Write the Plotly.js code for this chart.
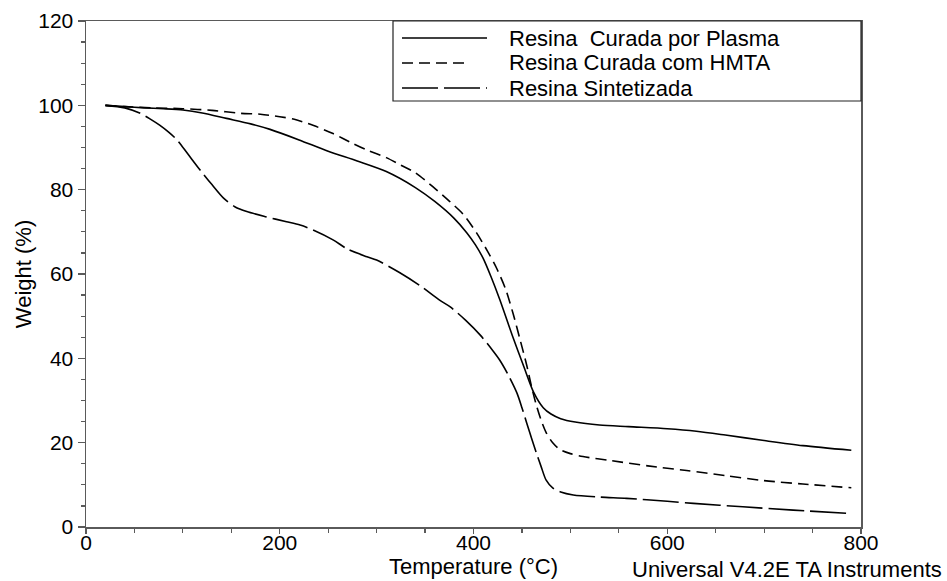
<!DOCTYPE html>
<html>
<head>
<meta charset="utf-8">
<script src="https://cdn.plot.ly/plotly-3.0.1.min.js"></script>
<style>
  html, body { margin: 0; padding: 0; background: #fff; }
  #chart { width: 947px; height: 581px; }
</style>
</head>
<body>
<div id="chart"></div>
<script>
// Thermogravimetric curves (TGA): residual weight vs temperature

const seriesNames = [
  "Resina\u00a0\u00a0Curada por Plasma",
  "Resina Curada com HMTA",
  "Resina Sintetizada"
];

// Resina curada por plasma
const plasmaTemp = [20, 40, 60, 80, 100, 120, 145, 170, 190, 220, 250, 280, 310, 340, 360, 380, 393, 402, 410, 418, 427, 441, 452, 462, 472, 480, 490, 505, 530, 560, 600, 630, 660, 700, 740, 790];
const plasmaWeight = [100, 99.7, 99.4, 99.2, 98.9, 98.2, 96.9, 95.6, 94.3, 91.8, 89.1, 86.8, 84.3, 80.5, 77.2, 73.2, 69.8, 66.9, 63.7, 59.4, 54.0, 44.8, 38.0, 32.0, 28.3, 26.8, 25.7, 24.9, 24.2, 23.8, 23.3, 22.7, 21.8, 20.5, 19.3, 18.2];

// Resina curada com HMTA
const hmtaTemp = [20, 40, 70, 100, 130, 160, 180, 200, 215, 235, 255, 275, 290, 310, 325, 340, 358, 375, 390, 403, 415, 424, 433, 441, 448, 455, 460, 465, 470, 475, 482, 489, 500, 513, 540, 580, 620, 660, 700, 740, 790];
const hmtaWeight = [100, 99.7, 99.4, 99.2, 98.8, 98.1, 97.9, 97.3, 96.7, 95.2, 93.3, 91.0, 89.4, 87.6, 85.8, 84.0, 80.7, 77.3, 74.0, 69.8, 65.2, 61.3, 56.5, 50.5, 44.5, 38.3, 33.2, 28.8, 25.2, 22.4, 19.9, 18.4, 17.4, 16.7, 15.8, 14.5, 13.4, 12.2, 11.0, 10.2, 9.3];

// Resina sintetizada
const sintTemp = [20, 40, 56, 66, 76, 85, 94, 105, 118, 130, 142, 154, 166, 185, 207, 221, 235, 255, 270, 290, 300, 324, 345, 365, 376, 392, 407, 420, 427, 436, 445, 450, 455, 460, 465, 470, 475, 482, 490, 503, 530, 558, 600, 627, 678, 730, 790];
const sintWeight = [100, 99.4, 98.1, 96.8, 95.3, 93.7, 91.8, 88.5, 84.6, 81.2, 78.0, 75.9, 74.8, 73.6, 72.4, 71.6, 70.4, 68.1, 65.9, 64.1, 63.3, 60.3, 57.2, 53.8, 52.2, 49.0, 45.5, 41.8, 39.6, 36.0, 31.7, 28.3, 24.6, 21.0, 17.5, 14.2, 11.1, 9.2, 8.3, 7.6, 7.1, 6.8, 6.1, 5.6, 4.8, 4.0, 3.2];

const xTitle = "Temperature (°C)";
const yTitle = "Weight (%)";
const footerText = "Universal V4.2E TA Instruments";

// line styles for the three curves
const dashStyles = ["solid", "11px,6px", "36px,6px"];

const W = 947, H = 581;
const M = { l: 86, r: 86, t: 21, b: 54 };
const plotW = W - M.l - M.r, plotH = H - M.t - M.b;
const px2x = p => (p - M.l) / plotW;        // pixel -> paper x
const py2y = p => (H - M.b - p) / plotH;    // pixel -> paper y

const FONT = "Liberation Sans, Arial, sans-serif";
const AXIS_GRAY = "#5a5a5a";
const TEXT_SIZE = 22;
const TICK_SIZE = 21;

const traces = [
  [plasmaTemp, plasmaWeight],
  [hmtaTemp, hmtaWeight],
  [sintTemp, sintWeight]
].map(([x, y], i) => ({
  x: x, y: y,
  type: "scatter",
  mode: "lines",
  name: seriesNames[i],
  showlegend: false,
  line: { color: "#000", width: 1.6, dash: dashStyles[i], shape: "spline", smoothing: 0.8 }
}));

// boxed key in the upper right corner
const keyRows = [38, 63, 88];
const shapes = [{
  type: "rect", xref: "paper", yref: "paper",
  x0: px2x(393), x1: 1, y0: py2y(101), y1: 1,
  line: { color: "#222", width: 1.2 }, fillcolor: "#fff", layer: "above"
}];
const annotations = [];
keyRows.forEach((row, i) => {
  shapes.push({
    type: "line", xref: "paper", yref: "paper",
    x0: px2x(402), x1: px2x(i === 1 ? 470 : 487),
    y0: py2y(row), y1: py2y(row),
    line: { color: "#000", width: 1.6, dash: dashStyles[i] }, layer: "above"
  });
  annotations.push({
    xref: "paper", yref: "paper", x: px2x(507), y: py2y(row),
    xanchor: "left", yanchor: "middle", showarrow: false,
    text: seriesNames[i], font: { family: FONT, size: TEXT_SIZE, color: "#000" }
  });
});
annotations.push({
  xref: "paper", yref: "paper", x: px2x(944), y: py2y(569),
  xanchor: "right", yanchor: "middle", showarrow: false,
  text: footerText, font: { family: FONT, size: TEXT_SIZE, color: "#000" }
});

const xRange = [0, 800];

const layout = {
  width: W, height: H,
  margin: M,
  paper_bgcolor: "#fff", plot_bgcolor: "#fff",
  font: { family: FONT, size: TEXT_SIZE, color: "#000" },
  showlegend: false,
  // bottom axis: frame and tick marks
  xaxis: {
    range: xRange, dtick: 200, tick0: 0,
    showgrid: false, zeroline: false,
    showline: true, linecolor: AXIS_GRAY, linewidth: 1.5, mirror: true,
    ticks: "outside", ticklen: 5, tickwidth: 1.2, tickcolor: AXIS_GRAY,
    showticklabels: false,
    minor: { dtick: 50, ticks: "outside", ticklen: 4, tickwidth: 1.2, tickcolor: AXIS_GRAY, showgrid: false },
    automargin: false
  },
  // same scale, carrying the tick labels and the title close to the frame
  xaxis2: {
    overlaying: "x", anchor: "y", side: "bottom", matches: "x",
    range: xRange, dtick: 200, tick0: 0,
    showgrid: false, zeroline: false, showline: false,
    ticks: "", ticklabelstandoff: 1,
    tickfont: { family: FONT, size: TICK_SIZE, color: "#000" },
    title: { text: xTitle, standoff: 2, font: { family: FONT, size: TEXT_SIZE, color: "#000" } },
    automargin: false
  },
  yaxis: {
    range: [0, 120], dtick: 20, tick0: 0,
    showgrid: false, zeroline: false,
    showline: true, linecolor: AXIS_GRAY, linewidth: 1.5, mirror: true,
    ticks: "outside", ticklen: 7, tickwidth: 1.2, tickcolor: AXIS_GRAY,
    minor: { dtick: 5, ticks: "outside", ticklen: 4, tickwidth: 1.2, tickcolor: AXIS_GRAY, showgrid: false },
    tickfont: { family: FONT, size: TICK_SIZE, color: "#000" },
    title: { text: yTitle, standoff: 0, font: { family: FONT, size: TEXT_SIZE, color: "#000" } },
    automargin: false
  },
  shapes: shapes,
  annotations: annotations
};

// an empty trace so the label axis is laid out
traces.push({ x: [], y: [], type: "scatter", mode: "lines", xaxis: "x2", yaxis: "y", showlegend: false, hoverinfo: "skip" });

Plotly.newPlot("chart", traces, layout, { staticPlot: true, displayModeBar: false });
</script>
</body>
</html>
